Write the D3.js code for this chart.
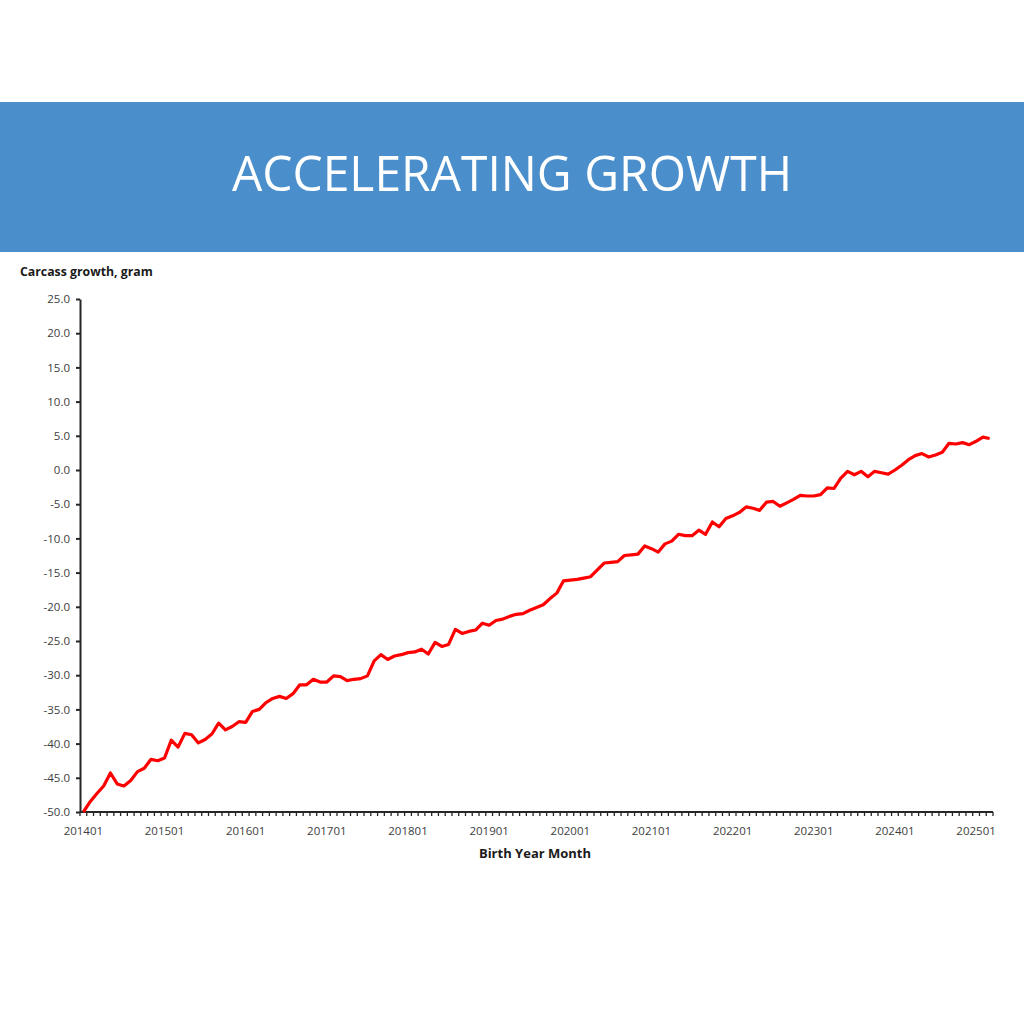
<!DOCTYPE html>
<html>
<head>
<meta charset="utf-8">
<script src="https://cdn.jsdelivr.net/npm/d3@7/dist/d3.min.js"></script>
<style>
  html, body { margin: 0; padding: 0; background: #ffffff; }
  svg { display: block; }
</style>
</head>
<body>
<svg id="chart" width="1024" height="1024"></svg>
<script>
// ---------- DATA ----------
const titleText = "ACCELERATING GROWTH";
const yAxisTitle = "Carcass growth, gram";
const xAxisTitle = "Birth Year Month";

// monthly categories 201401 .. 202503
const startYear = 2014, endYear = 2025, lastMonth = 3;
const months = [];
for (let y = startYear; y <= endYear; y++) {
  for (let m = 1; m <= 12; m++) {
    if (y === endYear && m > lastMonth) break;
    months.push(String(y) + String(m).padStart(2, "0"));
  }
}

// carcass growth (gram) per birth month
const growth = [
  -50.0, -48.5, -47.3, -46.2, -44.3, -45.9, -46.2, -45.4, -44.1, -43.6, -42.3, -42.5,
  -42.1, -39.5, -40.5, -38.5, -38.7, -39.9, -39.4, -38.6, -37.0, -38.0, -37.5, -36.8,
  -36.9, -35.3, -35.0, -34.0, -33.4, -33.1, -33.4, -32.7, -31.4, -31.4, -30.6, -31.0,
  -31.0, -30.1, -30.2, -30.8, -30.6, -30.5, -30.1, -27.9, -27.0, -27.7, -27.2, -27.0,
  -26.7, -26.6, -26.2, -26.9, -25.2, -25.8, -25.5, -23.3, -23.9, -23.6, -23.4, -22.4,
  -22.7, -22.0, -21.8, -21.4, -21.1, -21.0, -20.5, -20.1, -19.7, -18.8, -18.0, -16.2,
  -16.1, -16.0, -15.8, -15.6, -14.6, -13.6, -13.5, -13.4, -12.5, -12.4, -12.3, -11.1,
  -11.5, -12.0, -10.8, -10.4, -9.4, -9.6, -9.6, -8.8, -9.4, -7.6, -8.3, -7.1,
  -6.7, -6.2, -5.4, -5.6, -5.9, -4.7, -4.6, -5.3, -4.8, -4.3, -3.7, -3.8,
  -3.8, -3.6, -2.6, -2.7, -1.2, -0.2, -0.7, -0.2, -1.0, -0.2, -0.4, -0.6,
  0.0, 0.7, 1.5, 2.1, 2.4, 1.9, 2.2, 2.6, 3.9, 3.8, 4.0, 3.7,
  4.2, 4.8, 4.6
];

const yTicks = [25, 20, 15, 10, 5, 0, -5, -10, -15, -20, -25, -30, -35, -40, -45, -50];
const xTickLabels = ["201401","201501","201601","201701","201801","201901","202001","202101","202201","202301","202401","202501"];

// ---------- LAYOUT ----------
const svg = d3.select("#chart");
const fontFamily = "'Open Sans', 'Noto Sans', 'DejaVu Sans', sans-serif";
const plot = { left: 80, right: 993, top: 299, bottom: 812 };
const locale = d3.formatLocale({ decimal: ".", thousands: ",", grouping: [3], currency: ["", ""], minus: "-" });

// title band
svg.append("rect")
  .attr("x", 0).attr("y", 102).attr("width", 1024).attr("height", 150)
  .attr("fill", "#4a8fcc");
svg.append("text")
  .attr("x", 512).attr("y", 191)
  .attr("text-anchor", "middle")
  .attr("fill", "#ffffff")
  .attr("font-family", fontFamily)
  .attr("font-size", 50)
  .attr("textLength", 560)
  .attr("lengthAdjust", "spacingAndGlyphs")
  .text(titleText);

// scales
const x = d3.scalePoint().domain(months).range([plot.left, plot.right]).padding(0.5);
const y = d3.scaleLinear().domain([-50, 25]).range([plot.bottom, plot.top]);

// y axis
const yAxis = d3.axisLeft(y).tickValues(yTicks).tickFormat(locale.format(".1f")).tickSize(4).tickSizeOuter(0);
const gy = svg.append("g").attr("transform", `translate(${plot.left},0)`).call(yAxis);
gy.select(".domain").attr("stroke", "#262626").attr("stroke-width", 2);
gy.selectAll(".tick line").attr("stroke", "#262626").attr("stroke-width", 2);
gy.selectAll(".tick text")
  .attr("font-family", fontFamily).attr("font-size", 11.5).attr("fill", "#404040")
  .attr("x", -10);

// x axis: ticks at category boundaries, labels at each January
const step = x.step();
const boundaries = d3.range(months.length + 1).map(i => plot.left + i * step);
const gx = svg.append("g");
gx.selectAll("line.mt").data(boundaries).enter().append("line")
  .attr("class", "mt")
  .attr("x1", d => d).attr("x2", d => d)
  .attr("y1", plot.bottom).attr("y2", plot.bottom + 4)
  .attr("stroke", "#262626").attr("stroke-width", 1.3);
gx.append("line")
  .attr("x1", plot.left).attr("x2", plot.right)
  .attr("y1", plot.bottom).attr("y2", plot.bottom)
  .attr("stroke", "#262626").attr("stroke-width", 2);
gx.selectAll("text.xl").data(xTickLabels).enter().append("text")
  .attr("class", "xl")
  .attr("x", d => x(d)).attr("y", 835)
  .attr("text-anchor", "middle")
  .attr("font-family", fontFamily).attr("font-size", 11.5).attr("fill", "#404040")
  .text(d => d);

// axis titles
svg.append("text")
  .attr("x", 20).attr("y", 276)
  .attr("font-family", fontFamily).attr("font-size", 12.3).attr("font-weight", "bold")
  .attr("fill", "#1a1a1a")
  .text(yAxisTitle);
svg.append("text")
  .attr("x", 535).attr("y", 858)
  .attr("text-anchor", "middle")
  .attr("font-family", fontFamily).attr("font-size", 13).attr("font-weight", "bold")
  .attr("fill", "#1a1a1a")
  .text(xAxisTitle);

// line
const line = d3.line().x((d, i) => x(months[i])).y(d => y(d));
svg.append("path")
  .datum(growth)
  .attr("d", line)
  .attr("fill", "none")
  .attr("stroke", "#ff0000")
  .attr("stroke-width", 3.2)
  .attr("stroke-linejoin", "round");
</script>
</body>
</html>
